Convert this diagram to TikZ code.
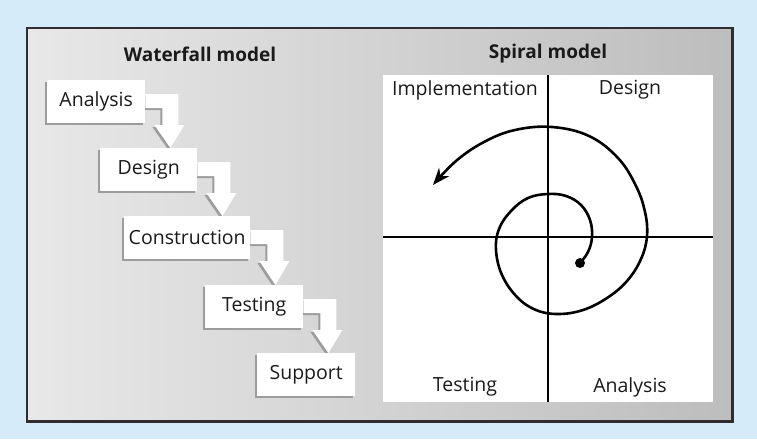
\documentclass[tikz,border=0pt]{standalone}
\usepackage{fontspec}
\setmainfont{Open Sans}
\setsansfont{Open Sans}
\usetikzlibrary{calc,arrows.meta}
\definecolor{bgblue}{HTML}{D5EBF9}
\definecolor{panelL}{HTML}{E8E8E8}
\definecolor{panelR}{HTML}{BDBDBD}
\definecolor{framec}{HTML}{2E2E2E}
\definecolor{shade}{HTML}{9C9C9C}
\definecolor{ink}{HTML}{1A1A1A}
\pgfdeclarelayer{panel}
\pgfdeclarelayer{shadowlayer}
\pgfdeclarelayer{arrowlayer}
\pgfsetlayers{panel,shadowlayer,arrowlayer,main}
\newcommand\wfarrow[3]{%
  \coordinate (#1tipx) at ($(#1.north east)+(25,0)$);
  \fill[#3] ($(#1.north east)+(0,14)$) -- ($(#1.north east)+(33,14)$)
    -- ($(#1.north east)+(33,45)$) -- ($(#1.north east)+(39,45)$)
    -- (#1tipx |- #2.north) -- ($(#1.north east)+(9,45)$)
    -- ($(#1.north east)+(17,45)$) -- ($(#1.north east)+(17,28)$)
    -- ($(#1.north east)+(0,28)$) -- cycle;}
\begin{document}
\begin{tikzpicture}[x=1pt,y=-1pt,
  wfbox/.style={fill=white, anchor=north west, minimum height=43pt, inner sep=0pt,
    font=\fontsize{19.5}{21}\selectfont, text=ink},
  wfshadow/.style={fill=shade, transform canvas={shift={(-2,2)}}},
  wfarrowfill/.style={fill=white},
  lbl/.style={font=\fontsize{19.5}{21}\selectfont, text=ink},
  ttl/.style={font=\bfseries\fontsize{19}{21}\selectfont, text=ink},
  axisline/.style={line width=1.2pt, draw=black},
  spiral/.style={line width=2.6pt, draw=black, -{Stealth[length=17pt,width=13pt]}}
]
\useasboundingbox (0,0) rectangle (757,439);
\begin{pgfonlayer}{panel}
  \fill[bgblue] (0,0) rectangle (757,439);
  \shade[left color=panelL, right color=panelR] (26,27) rectangle (733,422);
  \draw[framec, line width=1.6pt] (27,28) rectangle (732,421);
  \draw[framec, line width=2.6pt] (732.5,27) -- (732.5,421.5) -- (26,421.5);
\end{pgfonlayer}

% titles
\node[ttl] (wtitle) at (200,54) {Waterfall model};
\node[ttl] (stitle) at (548,54) {Spiral model};

% waterfall boxes
\node[wfbox, minimum width=98pt] (A) at (47,80) {Analysis};
\node[wfbox, minimum width=97pt] (D) at (100,148) {Design};
\node[wfbox, minimum width=126pt] (C) at (124,216) {Construction};
\node[wfbox, minimum width=98pt] (T) at (205,285) {Testing};
\node[wfbox, minimum width=98pt] (S) at (257,353) {Support};

\begin{pgfonlayer}{shadowlayer}
  \foreach \b in {A,D,C,T,S}{
    \fill[wfshadow] (\b.north west) rectangle (\b.south east);
  }
  \wfarrow{A}{D}{wfshadow}
  \wfarrow{D}{C}{wfshadow}
  \wfarrow{C}{T}{wfshadow}
  \wfarrow{T}{S}{wfshadow}
\end{pgfonlayer}
\begin{pgfonlayer}{arrowlayer}
  \wfarrow{A}{D}{wfarrowfill}
  \wfarrow{D}{C}{wfarrowfill}
  \wfarrow{C}{T}{wfarrowfill}
  \wfarrow{T}{S}{wfarrowfill}
\end{pgfonlayer}

% spiral model
\node[fill=white, anchor=north west, minimum width=330pt, minimum height=327pt, inner sep=0pt] (sp) at (383,75) {};
\coordinate (ctr) at (548,237);
\draw[axisline] (ctr |- sp.north) -- (ctr |- sp.south);
\draw[axisline] (ctr -| sp.west) -- (ctr -| sp.east);
\node[lbl] (limp) at (465,90) {Implementation};
\node[lbl] (ldes) at (630,90) {Design};
\node[lbl] (ltest) at (465,387) {Testing};
\node[lbl] (lana) at (630,387) {Analysis};

\node[circle, fill=black, inner sep=0pt, minimum size=10pt] (dot) at (580,263) {};
\draw[spiral] plot[smooth, tension=0.65] coordinates {
  (580,263) (588,252) (592,237) (590,220) (581,205) (566,196) (548,194)
  (528,198) (511,211) (499,229) (496,250) (502,275) (517,297) (536,310)
  (558,314) (583,310) (607,298) (627,281) (641,259) (647,236) (645,212)
  (636,186) (618,158) (589,136) (552,127) (515,130) (484,142) (456,161) (433,185)};
\end{tikzpicture}
\end{document}
